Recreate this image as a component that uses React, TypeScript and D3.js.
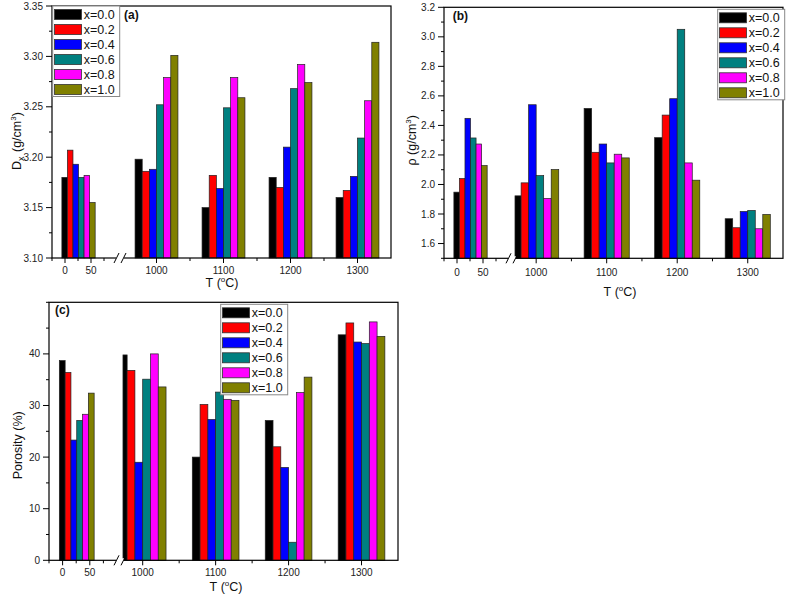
import React from 'react';
import * as d3 from 'd3';

// ---------- data ----------
const seriesNames = ['x=0.0', 'x=0.2', 'x=0.4', 'x=0.6', 'x=0.8', 'x=1.0'];
const seriesColors = ['#000000', '#ff0000', '#0000ff', '#008080', '#ff00ff', '#808000'];

// group positions on the temperature axis (first group = as-prepared, drawn around 0–50)
const groupPositions = [26, 1000, 1100, 1200, 1300];
const xMajorTicks = [0, 50, 1000, 1100, 1200, 1300];
const xMinorTicks = [-25, 25, 75, 1050, 1150, 1250];

// (a) X-ray density Dx (g/cm3): one array per series, values per group
const dx00 = [3.180, 3.198, 3.150, 3.180, 3.160];
const dx02 = [3.207, 3.186, 3.182, 3.170, 3.167];
const dx04 = [3.193, 3.188, 3.169, 3.210, 3.181];
const dx06 = [3.180, 3.252, 3.249, 3.268, 3.219];
const dx08 = [3.182, 3.279, 3.279, 3.292, 3.256];
const dx10 = [3.155, 3.301, 3.259, 3.274, 3.314];
const dxTicks = [3.10, 3.15, 3.20, 3.25, 3.30, 3.35];

// (b) bulk density rho (g/cm3)
const rho00 = [1.948, 1.923, 2.515, 2.317, 1.768];
const rho02 = [2.040, 2.011, 2.218, 2.470, 1.707];
const rho04 = [2.448, 2.540, 2.274, 2.581, 1.817];
const rho06 = [2.315, 2.060, 2.146, 3.051, 1.824];
const rho08 = [2.274, 1.905, 2.205, 2.146, 1.700];
const rho10 = [2.128, 2.101, 2.180, 2.029, 1.797];
const rhoTicks = [1.6, 1.8, 2.0, 2.2, 2.4, 2.6, 2.8, 3.0, 3.2];

// (c) porosity (%)
const por00 = [38.7, 39.8, 20.0, 27.1, 43.7];
const por02 = [36.4, 36.8, 30.2, 22.0, 46.0];
const por04 = [23.3, 19.0, 27.3, 18.0, 42.3];
const por06 = [27.1, 35.1, 32.6, 3.5, 42.0];
const por08 = [28.3, 40.0, 31.2, 32.5, 46.2];
const por10 = [32.4, 33.6, 31.0, 35.5, 43.4];
const porTicks = [0, 10, 20, 30, 40];

const FONT = "'Liberation Sans', Arial, Helvetica, sans-serif";
const GROUP_W = 64;

type PanelCfg = {
  left: number; top: number; width: number; height: number;
  yDomain: [number, number]; yTicks: number[]; yMinorStep: number; yFmt: (v: number) => string;
  xDomain: number[]; xRange: number[];
  series: number[][];
  legend: [number, number];
  tag: string; tagPos: [number, number];
  yTitle: React.ReactNode; yTitlePos: [number, number];
  xTitlePos: [number, number]; xLabelDy: number;
};

function Panel({ c }: { c: PanelCfg }) {
  const x = d3.scaleLinear().domain(c.xDomain).range(c.xRange);
  const y = d3.scaleLinear().domain(c.yDomain).range([c.height, 0]);
  const step = GROUP_W / seriesNames.length;
  const minorY = d3.range(c.yDomain[0], c.yDomain[1] + 1e-9, c.yMinorStep)
    .filter(v => !c.yTicks.some(t => Math.abs(t - v) < 1e-9));
  const brk = c.xRange[1];
  return (
    <g transform={`translate(${c.left},${c.top})`}>
      {c.series.map((vals, si) =>
        vals.map((v, gi) => {
          const x0 = groupPositions[gi] - GROUP_W / 2 + si * step;
          const px = x(x0);
          const w = x(x0 + step) - px;
          const py = y(v);
          return (
            <rect key={`${si}-${gi}`} x={px} y={py} width={w} height={c.height - py}
              fill={seriesColors[si]} stroke="#222" strokeWidth={0.7} />
          );
        })
      )}
      <rect x={0} y={0} width={c.width} height={c.height} fill="none" stroke="#000" strokeWidth={1.2} />
      {c.yTicks.map(t => (
        <g key={'yt' + t}>
          <line x1={-6} x2={0} y1={y(t)} y2={y(t)} stroke="#000" strokeWidth={1} />
          <text x={-9} y={y(t)} dy="0.35em" textAnchor="end" fontSize={10} fontFamily={FONT} fill="#222">{c.yFmt(t)}</text>
        </g>
      ))}
      {minorY.map(t => (
        <line key={'ym' + t} x1={-3} x2={0} y1={y(t)} y2={y(t)} stroke="#000" strokeWidth={1} />
      ))}
      {xMajorTicks.map(t => (
        <g key={'xt' + t}>
          <line x1={x(t)} x2={x(t)} y1={c.height} y2={c.height + 5} stroke="#000" strokeWidth={1} />
          <text x={x(t)} y={c.height + c.xLabelDy} textAnchor="middle" fontSize={10} fontFamily={FONT} fill="#222">{t}</text>
        </g>
      ))}
      {xMinorTicks.map(t => (
        <line key={'xm' + t} x1={x(t)} x2={x(t)} y1={c.height} y2={c.height + 3} stroke="#000" strokeWidth={1} />
      ))}
      <rect x={brk - 1} y={c.height - 2} width={c.xRange[2] - brk + 2} height={4} fill="#fff" />
      <line x1={brk - 3} y1={c.height + 5} x2={brk + 2} y2={c.height - 5} stroke="#000" strokeWidth={1} />
      <line x1={c.xRange[2] - 2} y1={c.height + 5} x2={c.xRange[2] + 3} y2={c.height - 5} stroke="#000" strokeWidth={1} />
      <text x={c.tagPos[0]} y={c.tagPos[1]} fontSize={12} fontWeight="bold" fontFamily={FONT} fill="#111">{c.tag}</text>
      <g transform={`translate(${c.legend[0]},${c.legend[1]})`}>
        <rect x={0} y={0} width={67} height={90.5} fill="#fff" stroke="#888" strokeWidth={1} />
        {seriesNames.map((n, i) => (
          <g key={n} transform={`translate(0,${3.5 + i * 15})`}>
            <rect x={1.8} y={0} width={27} height={10} fill={seriesColors[i]} stroke="#333" strokeWidth={0.8} />
            <text x={31} y={9.6} fontSize={12.5} fontFamily={FONT} fill="#111">{n}</text>
          </g>
        ))}
      </g>
      <text x={c.xTitlePos[0]} y={c.xTitlePos[1]} textAnchor="middle" fontSize={12.5} fontFamily={FONT} fill="#111">
        {'T\u00A0('}<tspan fontSize={8} dy={-5}>o</tspan><tspan dy={5}>C)</tspan>
      </text>
      <g transform={`translate(${c.yTitlePos[0]},${c.yTitlePos[1]}) rotate(-90)`}
        fontSize={12.5} fontFamily={FONT} fill="#111">{c.yTitle}</g>
    </g>
  );
}

export default function App() {
  const A: PanelCfg = {
    left: 52, top: 6, width: 339, height: 252,
    yDomain: [3.10, 3.35], yTicks: dxTicks, yMinorStep: 0.025, yFmt: v => v.toFixed(2),
    xDomain: [-25, 100, 950, 1350], xRange: [0, 65, 71, 339],
    series: [dx00, dx02, dx04, dx06, dx08, dx10],
    legend: [0.7, 0], tag: '(a)', tagPos: [72, 13],
    yTitle: (<>
      <text x={-29}>D</text>
      <text x={-20} y={3} fontSize={9}>x</text>
      <text x={-11}>(g/cm<tspan fontSize={8} dy={-5}>3</tspan><tspan dy={5}>)</tspan></text>
    </>),
    yTitlePos: [-31, 135], xTitlePos: [170, 281], xLabelDy: 16,
  };
  const B: PanelCfg = {
    left: 444, top: 7.3, width: 339, height: 251,
    yDomain: [1.5, 3.2], yTicks: rhoTicks, yMinorStep: 0.1, yFmt: v => v.toFixed(1),
    xDomain: [-25, 100, 970, 1350], xRange: [0, 65, 71, 339],
    series: [rho00, rho02, rho04, rho06, rho08, rho10],
    legend: [273.7, 2], tag: '(b)', tagPos: [8.7, 12.5],
    yTitle: (<text textAnchor="middle">{'ρ\u00A0(g/cm'}<tspan fontSize={8} dy={-5}>3</tspan><tspan dy={5}>)</tspan></text>),
    yTitlePos: [-28, 133], xTitlePos: [176, 289], xLabelDy: 17.5,
  };
  const C: PanelCfg = {
    left: 49, top: 302.3, width: 349, height: 258,
    yDomain: [0, 50], yTicks: porTicks, yMinorStep: 5, yFmt: v => String(v),
    xDomain: [-25, 100, 973, 1350], xRange: [0, 68, 74, 349],
    series: [por00, por02, por04, por06, por08, por10],
    legend: [171.7, 2], tag: '(c)', tagPos: [6, 11.7],
    yTitle: (<text textAnchor="middle">Porosity (%)</text>),
    yTitlePos: [-27, 143], xTitlePos: [177, 289], xLabelDy: 16.2,
  };
  return (
    <svg width={787} height={603} style={{ position: 'absolute', left: 0, top: 0, background: '#fff' }}>
      <rect width={787} height={603} fill="#fff" />
      <Panel c={A} />
      <Panel c={B} />
      <Panel c={C} />
    </svg>
  );
}
